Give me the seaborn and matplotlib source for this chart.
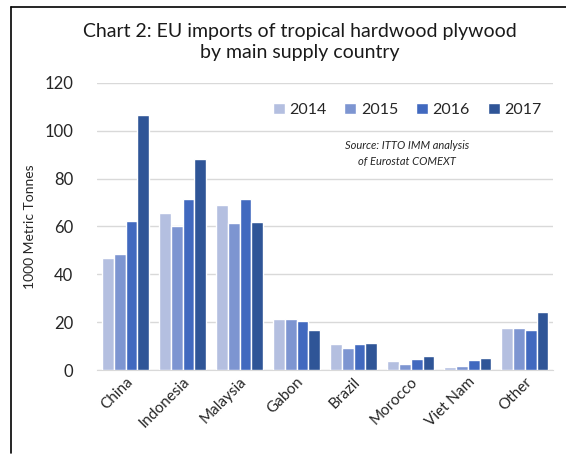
import numpy as np
import pandas as pd
import matplotlib
matplotlib.use("Agg")
import matplotlib.pyplot as plt
import seaborn as sns

# Datos (1000 toneladas métricas)
paises = ["China", "Indonesia", "Malaysia", "Gabon", "Brazil", "Morocco", "Viet Nam", "Other"]
anios = ["2014", "2015", "2016", "2017"]
v2014 = [46.7, 65.5, 68.8, 21.2, 10.7, 3.8, 1.4, 17.6]
v2015 = [48.4, 60.2, 61.3, 21.2, 9.1, 2.6, 1.8, 17.6]
v2016 = [62.4, 71.4, 71.4, 20.3, 10.7, 4.7, 4.0, 16.7]
v2017 = [106.6, 88.3, 61.7, 16.7, 11.1, 5.8, 4.9, 24.4]
colores = ["#B4BFE0", "#7D95D1", "#4169BF", "#2F5597"]

df = pd.DataFrame({
    "Pais": paises * 4,
    "Anio": np.repeat(anios, len(paises)),
    "Valor": v2014 + v2015 + v2016 + v2017,
})

sns.set_style("white")
plt.rcParams["font.family"] = ["Lato", "DejaVu Sans"]

fig = plt.figure(figsize=(5.66, 4.55), dpi=100)
ax = fig.add_axes([0.1714, 0.1868, 0.8057, 0.6308])

sns.barplot(data=df, x="Pais", y="Valor", hue="Anio", palette=colores,
            width=0.84, saturation=1, ax=ax, zorder=3)

ax.set_ylim(0, 120)
ax.set_yticks(range(0, 121, 20))
ax.set_xlim(-0.5, len(paises) - 0.5)
ax.grid(axis="y", color="#D9D9D9", linewidth=1, zorder=0)
for s in ["top", "right", "left"]:
    ax.spines[s].set_visible(False)
ax.spines["bottom"].set_color("#D9D9D9")
ax.tick_params(axis="both", length=0, labelsize=12, colors="#262626")
ax.tick_params(axis="y", pad=17)
plt.setp(ax.get_xticklabels(), rotation=45, ha="right", rotation_mode="anchor", fontsize=11)
ax.set_xlabel("")
ax.set_ylabel("1000 Metric Tonnes", fontsize=10, color="#262626", labelpad=6)

ax.legend(ncol=4, frameon=False, loc="center", bbox_to_anchor=(0.68, 0.906),
          handlelength=0.75, handleheight=0.75, handletextpad=0.3,
          columnspacing=1.1, fontsize=11.5, labelcolor="#262626")

ax.text(0.68, 0.755, "Source: ITTO IMM analysis\nof Eurostat COMEXT",
        transform=ax.transAxes, ha="center", va="center", fontsize=8,
        style="italic", color="#262626", linespacing=1.5)

fig.text(0.53, 0.908, "Chart 2: EU imports of tropical hardwood plywood\nby main supply country",
         ha="center", va="center", fontsize=14, color="#1a1a1a", linespacing=1.3)

# marco parcial (arriba e izquierda)
fig.add_artist(plt.Line2D([11 / 566, 1], [1 - 7 / 455, 1 - 7 / 455], color="black", linewidth=1.2))
fig.add_artist(plt.Line2D([11 / 566, 11 / 566], [1 - 7 / 455, 2 / 455], color="black", linewidth=1.2))

fig.savefig("out.png", dpi=100)
